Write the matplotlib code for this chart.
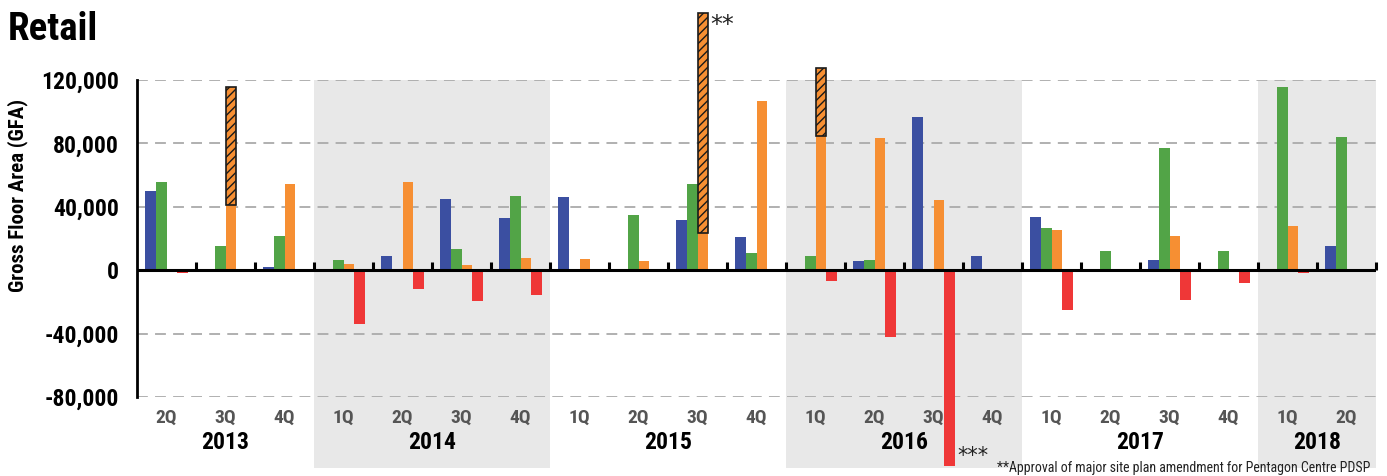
import matplotlib
matplotlib.use("Agg")
import matplotlib.pyplot as plt
from matplotlib import font_manager as fm
from matplotlib.patches import Rectangle
import numpy as np

# ---------------- data ----------------
quarters = ['2Q', '3Q', '4Q',
            '1Q', '2Q', '3Q', '4Q',
            '1Q', '2Q', '3Q', '4Q',
            '1Q', '2Q', '3Q', '4Q',
            '1Q', '2Q', '3Q', '4Q',
            '1Q', '2Q']
years = ['2013', '2014', '2015', '2016', '2017', '2018']
quarters_per_year = [3, 4, 4, 4, 4, 2]
shaded_years = ['2014', '2016', '2018']

blue = [50000, 0, 1900, 0, 8800, 44700, 32800, 46000, 0, 31500, 20800,
        0, 5700, 96400, 8800, 33400, 0, 6300, 0, 0, 15100]
green = [55400, 15100, 21400, 6300, 0, 13200, 46600, 0, 34600, 54200, 10700,
         8800, 6300, 0, 0, 26500, 12000, 76900, 12000, 115300, 83800]
orange = [0, 41000, 54200, 3800, 55400, 3200, 7600, 6900, 5700, 23500, 106500,
          84900, 83200, 44100, 0, 25200, 0, 21400, 0, 27700, 0]
orange_hatched = [0, 74500, 0, 0, 0, 0, 0, 0, 0, 138600, 0,
                  42600, 0, 0, 0, 0, 0, 0, 0, 0, 0]
red = [-1700, 0, 0, -33800, -11700, -19300, -15500, 0, 0, -1000, 0,
       -6900, -42000, -123500, 0, -25200, 0, -18900, -8200, -1900, 0]

yticks = [-80000, -40000, 0, 40000, 80000, 120000]

title = 'Retail'
ylabel = 'Gross Floor Area (GFA)'
footnote = '**Approval of major site plan amendment for Pentagon Centre PDSP'

# ---------------- fonts ----------------
names = {f.name for f in fm.fontManager.ttflist}
if 'Roboto Condensed' in names:
    COND = dict(family='Roboto Condensed')
elif 'Liberation Sans Narrow' in names:
    COND = dict(family='Liberation Sans Narrow')
else:
    COND = dict(family='DejaVu Sans', stretch='condensed')

C_BLUE = '#3B4FA1'
C_GREEN = '#52A447'
C_ORANGE = '#F68F33'
C_RED = '#EF3737'
C_SHADE = '#E8E8E8'

plt.rcParams['hatch.linewidth'] = 1.0

W, H = 1387, 476
fig = plt.figure(figsize=(W / 100, H / 100), dpi=100)
ax_l, ax_r, ax_t, ax_b = 137, 1376, 80, 397
ax = fig.add_axes([ax_l / W, 1 - ax_b / H, (ax_r - ax_l) / W, (ax_b - ax_t) / H])

n = len(quarters)
x = np.arange(n)
bw = 0.18
offs = np.array([-1.5, -0.5, 0.5, 1.5]) * bw

ax.bar(x + offs[0], blue, bw, color=C_BLUE, zorder=2, linewidth=0)
ax.bar(x + offs[1], green, bw, color=C_GREEN, zorder=2, linewidth=0)
ax.bar(x + offs[2], orange, bw, color=C_ORANGE, zorder=2, linewidth=0)
hb = ax.bar(x + offs[2], orange_hatched, bw, bottom=orange, color=C_ORANGE,
            edgecolor='#1a1a1a', hatch='////', linewidth=1.2, zorder=2)
for rect, v in zip(hb, orange_hatched):
    rect.set_clip_on(False)
    if v == 0:
        rect.set_visible(False)
rb = ax.bar(x + offs[3], red, bw, color=C_RED, zorder=2, linewidth=0)
for rect in rb:
    rect.set_clip_on(False)

ax.set_xlim(-0.5, n - 0.5)
ax.set_ylim(-80000, 120000)

# shading bands for alternate years
trans = ax.get_xaxis_transform()
start = 0
year_spans = []
for yr, q in zip(years, quarters_per_year):
    year_spans.append((yr, start, start + q))
    start += q
for yr, s, e in year_spans:
    if yr in shaded_years:
        ax.add_patch(Rectangle((s - 0.5, -0.224), e - s, 1.224, transform=trans,
                               facecolor=C_SHADE, edgecolor='none', zorder=0.2,
                               clip_on=False))
    ax.text((s + e - 1) / 2, -0.145, yr, transform=trans, ha='center', va='center',
            fontsize=17, fontweight='bold', color='black', **COND)

for i, q in enumerate(quarters):
    ax.text(i, -0.066, q, transform=trans, ha='center', va='center',
            fontsize=14, fontweight='bold', color='#555555', **COND)

# gridlines
for yv in yticks:
    if yv != 0:
        ax.axhline(yv, color='#AAAAAA', lw=1.3, ls=(0, (6, 4)), zorder=0.5)
ax.axhline(0, color='black', lw=2.2, zorder=3)
# category boundary ticks pointing upward from the zero line
bounds = np.arange(0.5, n + 0.5, 1.0)
ax.vlines(bounds, 0, 5000, color='black', lw=2.2, zorder=3, clip_on=False)

for sp in ['top', 'right', 'bottom']:
    ax.spines[sp].set_visible(False)
ax.spines['left'].set_linewidth(2.0)
ax.spines['left'].set_color('black')
ax.set_xticks([])
ax.set_yticks(yticks)
ax.set_yticklabels([f'{v:,}' for v in yticks])
ax.tick_params(axis='y', length=0, pad=13)
for lab in ax.get_yticklabels():
    lab.set_fontsize(17)
    lab.set_fontweight('bold')
    lab.set_family(COND['family'])
    if 'stretch' in COND:
        lab.set_stretch(COND['stretch'])

fig.text(18 / W, 1 - 195 / H, ylabel, rotation=90, ha='center', va='center',
         fontsize=15, fontweight='bold', **COND)
fig.text(8 / W, 1 - 40 / H, title, ha='left', va='baseline', fontsize=28,
         fontweight='bold', **COND)

# annotations
i15 = 9
ax.text(i15 + offs[2] + bw / 2 + 0.04, orange[i15] + orange_hatched[i15], '**',
        ha='left', va='top', fontsize=17, clip_on=False, color='#222222')
i16 = 13
ax.text(i16 + offs[3] + bw / 2 + 0.05, red[i16], '***', ha='left', va='bottom',
        fontsize=15, clip_on=False, color='#222222')

fig.text(997 / W, 1 - 475 / H, footnote, ha='left', va='bottom', fontsize=10,
         color='#222222', **COND)

fig.savefig('out.png', dpi=100)
